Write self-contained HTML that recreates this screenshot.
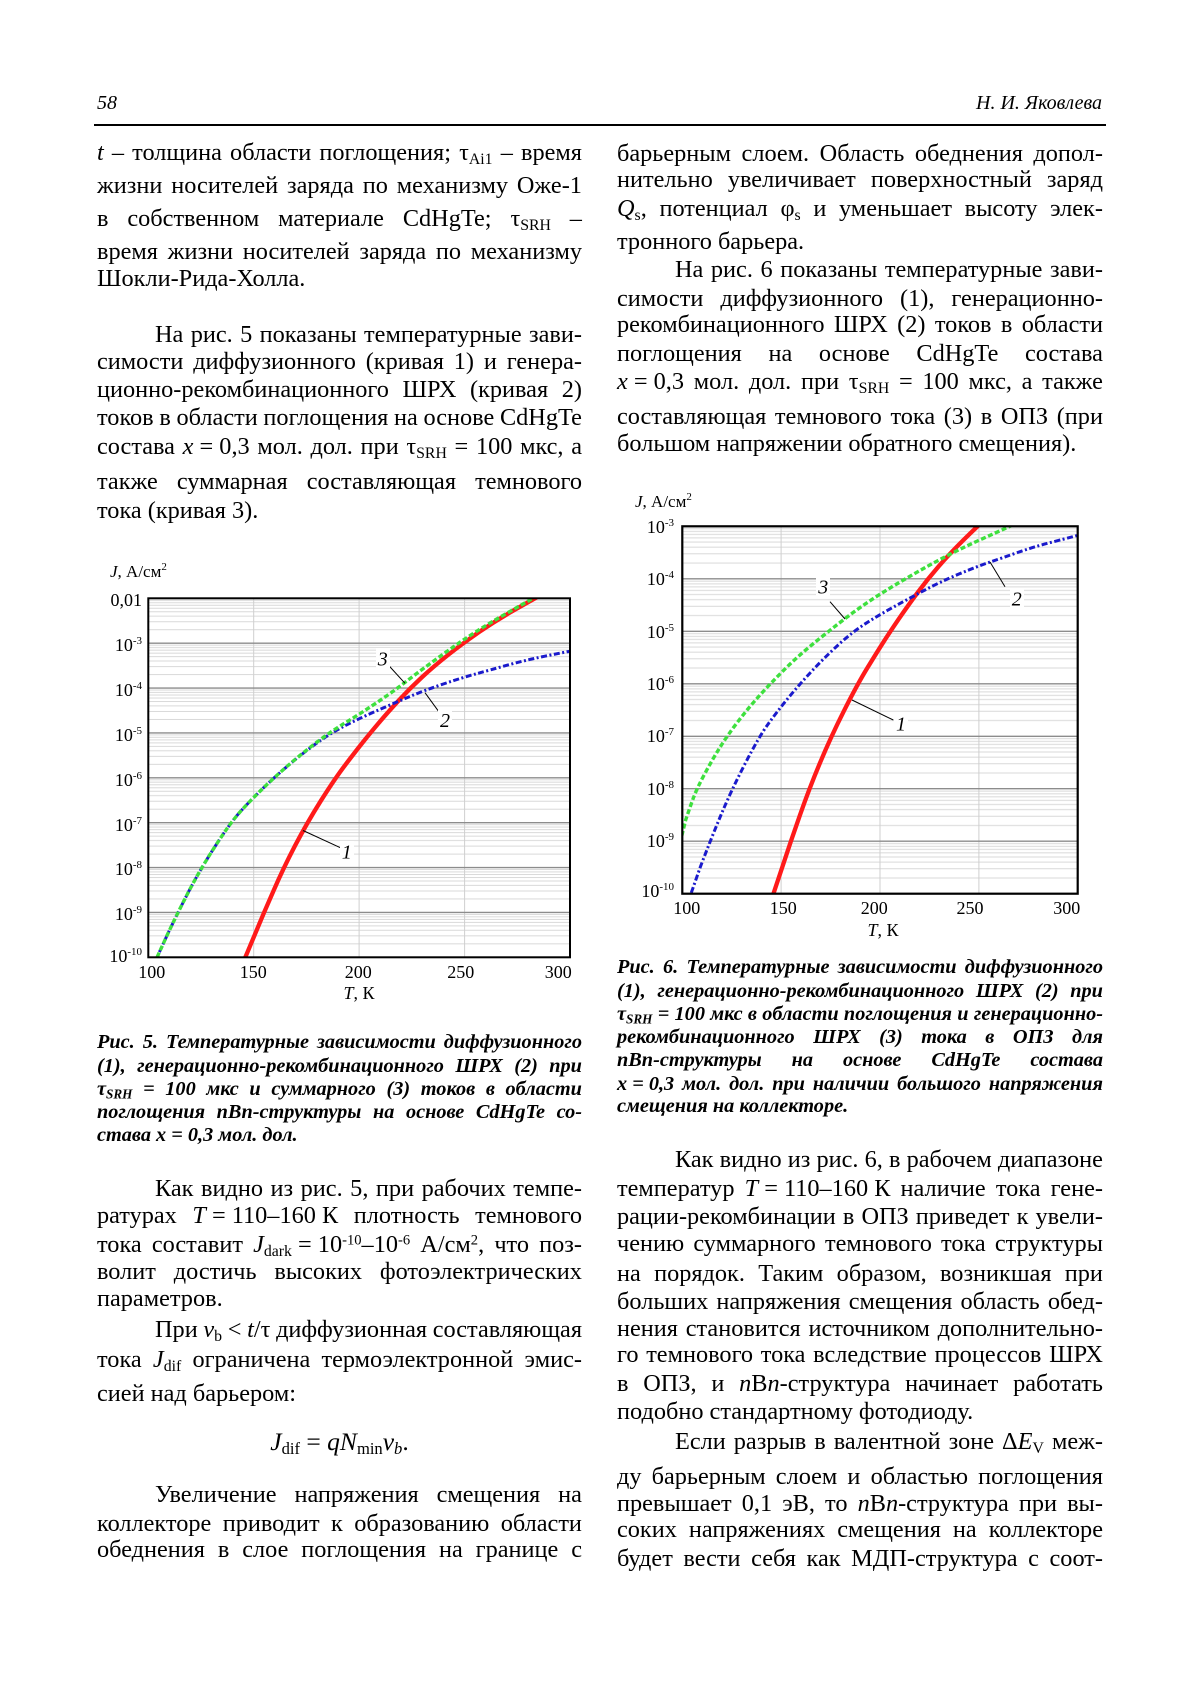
<!DOCTYPE html>
<html><head><meta charset="utf-8">
<style>
*{box-sizing:border-box}
body{margin:0;width:1200px;height:1698px;position:relative;overflow:hidden;background:#fff;font-family:"Liberation Serif","Noto Serif CJK SC",serif;color:#000}
.l{position:absolute;white-space:nowrap;font-size:24.3px;line-height:28px;height:28px}
.L{left:97px;width:485px}
.R{left:617px;width:486px}
.j{display:flex;justify-content:space-between;align-items:baseline}
.in{padding-left:58px}
.c{font-size:20.3px;line-height:23px;height:23px;font-weight:bold;font-style:italic}
sub{font-size:0.65em;vertical-align:-0.25em;line-height:0}
sup{font-size:0.6em;vertical-align:0.5em;line-height:0}
.hd{position:absolute;top:91px;font-size:20px;line-height:24px;font-style:italic}
svg{position:absolute;left:0;top:0}
</style></head><body>

<div class="hd" style="left:97px">58</div>
<div class="hd" style="right:98px">Н. И. Яковлева</div>
<div style="position:absolute;left:94px;top:124px;width:1012px;height:2px;background:#000"></div>

<!-- LEFT COLUMN -->
<div class="l L j" style="top:139px"><span><i>t</i></span><span>–</span><span>толщина</span><span>области</span><span>поглощения;</span><span>τ<sub>Ai1</sub></span><span>–</span><span>время</span></div>
<div class="l L j" style="top:172px"><span>жизни</span><span>носителей</span><span>заряда</span><span>по</span><span>механизму</span><span>Оже-1</span></div>
<div class="l L j" style="top:205px"><span>в</span><span>собственном</span><span>материале</span><span>CdHgTe;</span><span>τ<sub>SRH</sub></span><span>–</span></div>
<div class="l L j" style="top:238px"><span>время</span><span>жизни</span><span>носителей</span><span>заряда</span><span>по</span><span>механизму</span></div>
<div class="l L" style="top:265px">Шокли-Рида-Холла.</div>

<div class="l L j in" style="top:321px"><span>На</span><span>рис.</span><span>5</span><span>показаны</span><span>температурные</span><span>зави-</span></div>
<div class="l L j" style="top:348px"><span>симости</span><span>диффузионного</span><span>(кривая</span><span>1)</span><span>и</span><span>генера-</span></div>
<div class="l L j" style="top:376px"><span>ционно-рекомбинационного</span><span>ШРХ</span><span>(кривая</span><span>2)</span></div>
<div class="l L j" style="top:404px"><span>токов</span><span>в</span><span>области</span><span>поглощения</span><span>на</span><span>основе</span><span>CdHgTe</span></div>
<div class="l L j" style="top:433px"><span>состава</span><span><i>x</i> = 0,3</span><span>мол.</span><span>дол.</span><span>при</span><span>τ<sub>SRH</sub></span><span>=</span><span>100</span><span>мкс,</span><span>а</span></div>
<div class="l L j" style="top:468px"><span>также</span><span>суммарная</span><span>составляющая</span><span>темнового</span></div>
<div class="l L" style="top:497px">тока (кривая 3).</div>

<div class="l L j c" style="top:1031px"><span>Рис.</span><span>5.</span><span>Температурные</span><span>зависимости</span><span>диффузионного</span></div>
<div class="l L j c" style="top:1055px"><span>(1),</span><span>генерационно-рекомбинационного</span><span>ШРХ</span><span>(2)</span><span>при</span></div>
<div class="l L j c" style="top:1078px"><span>τ<sub>SRH</sub></span><span>=</span><span>100</span><span>мкс</span><span>и</span><span>суммарного</span><span>(3)</span><span>токов</span><span>в</span><span>области</span></div>
<div class="l L j c" style="top:1101px"><span>поглощения</span><span>nBn-структуры</span><span>на</span><span>основе</span><span>CdHgTe</span><span>со-</span></div>
<div class="l L c" style="top:1124px">става x = 0,3 мол. дол.</div>

<div class="l L j in" style="top:1175px"><span>Как</span><span>видно</span><span>из</span><span>рис.</span><span>5,</span><span>при</span><span>рабочих</span><span>темпе-</span></div>
<div class="l L j" style="top:1202px"><span>ратурах</span><span><i>T</i> = 110–160 К</span><span>плотность</span><span>темнового</span></div>
<div class="l L j" style="top:1231px"><span>тока</span><span>составит</span><span><i>J</i><sub>dark</sub> = 10<sup>-10</sup>–10<sup>-6</sup></span><span>А/см<sup>2</sup>,</span><span>что</span><span>поз-</span></div>
<div class="l L j" style="top:1258px"><span>волит</span><span>достичь</span><span>высоких</span><span>фотоэлектрических</span></div>
<div class="l L" style="top:1285px">параметров.</div>
<div class="l L j in" style="top:1316px"><span>При</span><span><i>v</i><sub>b</sub></span><span>&lt;</span><span><i>t</i>/τ</span><span>диффузионная</span><span>составляющая</span></div>
<div class="l L j" style="top:1346px"><span>тока</span><span><i>J</i><sub>dif</sub></span><span>ограничена</span><span>термоэлектронной</span><span>эмис-</span></div>
<div class="l L" style="top:1380px">сией над барьером:</div>
<div class="l L" style="top:1428px;text-align:center;font-size:25.5px"><i>J</i><sub>dif</sub> = <i>qN</i><sub>min</sub><i>v<sub>b</sub></i>.</div>
<div class="l L j in" style="top:1481px"><span>Увеличение</span><span>напряжения</span><span>смещения</span><span>на</span></div>
<div class="l L j" style="top:1510px"><span>коллекторе</span><span>приводит</span><span>к</span><span>образованию</span><span>области</span></div>
<div class="l L j" style="top:1536px"><span>обеднения</span><span>в</span><span>слое</span><span>поглощения</span><span>на</span><span>границе</span><span>с</span></div>

<!-- RIGHT COLUMN -->
<div class="l R j" style="top:140px"><span>барьерным</span><span>слоем.</span><span>Область</span><span>обеднения</span><span>допол-</span></div>
<div class="l R j" style="top:166px"><span>нительно</span><span>увеличивает</span><span>поверхностный</span><span>заряд</span></div>
<div class="l R j" style="top:195px"><span><i>Q</i><sub>s</sub>,</span><span>потенциал</span><span>φ<sub>s</sub></span><span>и</span><span>уменьшает</span><span>высоту</span><span>элек-</span></div>
<div class="l R" style="top:228px">тронного барьера.</div>
<div class="l R j in" style="top:256px"><span>На</span><span>рис.</span><span>6</span><span>показаны</span><span>температурные</span><span>зави-</span></div>
<div class="l R j" style="top:285px"><span>симости</span><span>диффузионного</span><span>(1),</span><span>генерационно-</span></div>
<div class="l R j" style="top:311px"><span>рекомбинационного</span><span>ШРХ</span><span>(2)</span><span>токов</span><span>в</span><span>области</span></div>
<div class="l R j" style="top:340px"><span>поглощения</span><span>на</span><span>основе</span><span>CdHgTe</span><span>состава</span></div>
<div class="l R j" style="top:368px"><span><i>x</i> = 0,3</span><span>мол.</span><span>дол.</span><span>при</span><span>τ<sub>SRH</sub></span><span>=</span><span>100</span><span>мкс,</span><span>а</span><span>также</span></div>
<div class="l R j" style="top:403px"><span>составляющая</span><span>темнового</span><span>тока</span><span>(3)</span><span>в</span><span>ОПЗ</span><span>(при</span></div>
<div class="l R" style="top:430px">большом напряжении обратного смещения).</div>

<div class="l R j c" style="top:956px"><span>Рис.</span><span>6.</span><span>Температурные</span><span>зависимости</span><span>диффузионного</span></div>
<div class="l R j c" style="top:980px"><span>(1),</span><span>генерационно-рекомбинационного</span><span>ШРХ</span><span>(2)</span><span>при</span></div>
<div class="l R j c" style="top:1003px"><span>τ<sub>SRH</sub></span><span>=</span><span>100</span><span>мкс</span><span>в</span><span>области</span><span>поглощения</span><span>и</span><span>генерационно-</span></div>
<div class="l R j c" style="top:1026px"><span>рекомбинационного</span><span>ШРХ</span><span>(3)</span><span>тока</span><span>в</span><span>ОПЗ</span><span>для</span></div>
<div class="l R j c" style="top:1049px"><span>nBn-структуры</span><span>на</span><span>основе</span><span>CdHgTe</span><span>состава</span></div>
<div class="l R j c" style="top:1073px"><span>x = 0,3</span><span>мол.</span><span>дол.</span><span>при</span><span>наличии</span><span>большого</span><span>напряжения</span></div>
<div class="l R c" style="top:1095px">смещения на коллекторе.</div>

<div class="l R j in" style="top:1146px"><span>Как</span><span>видно</span><span>из</span><span>рис.</span><span>6,</span><span>в</span><span>рабочем</span><span>диапазоне</span></div>
<div class="l R j" style="top:1175px"><span>температур</span><span><i>T</i> = 110–160 К</span><span>наличие</span><span>тока</span><span>гене-</span></div>
<div class="l R j" style="top:1203px"><span>рации-рекомбинации</span><span>в</span><span>ОПЗ</span><span>приведет</span><span>к</span><span>увели-</span></div>
<div class="l R j" style="top:1230px"><span>чению</span><span>суммарного</span><span>темнового</span><span>тока</span><span>структуры</span></div>
<div class="l R j" style="top:1260px"><span>на</span><span>порядок.</span><span>Таким</span><span>образом,</span><span>возникшая</span><span>при</span></div>
<div class="l R j" style="top:1288px"><span>больших</span><span>напряжения</span><span>смещения</span><span>область</span><span>обед-</span></div>
<div class="l R j" style="top:1315px"><span>нения</span><span>становится</span><span>источником</span><span>дополнительно-</span></div>
<div class="l R j" style="top:1341px"><span>го</span><span>темнового</span><span>тока</span><span>вследствие</span><span>процессов</span><span>ШРХ</span></div>
<div class="l R j" style="top:1370px"><span>в</span><span>ОПЗ,</span><span>и</span><span><i>n</i>B<i>n</i>-структура</span><span>начинает</span><span>работать</span></div>
<div class="l R" style="top:1398px">подобно стандартному фотодиоду.</div>
<div class="l R j in" style="top:1428px"><span>Если</span><span>разрыв</span><span>в</span><span>валентной</span><span>зоне</span><span>Δ<i>E</i><sub>V</sub></span><span>меж-</span></div>
<div class="l R j" style="top:1463px"><span>ду</span><span>барьерным</span><span>слоем</span><span>и</span><span>областью</span><span>поглощения</span></div>
<div class="l R j" style="top:1490px"><span>превышает</span><span>0,1</span><span>эВ,</span><span>то</span><span><i>n</i>B<i>n</i>-структура</span><span>при</span><span>вы-</span></div>
<div class="l R j" style="top:1516px"><span>соких</span><span>напряжениях</span><span>смещения</span><span>на</span><span>коллекторе</span></div>
<div class="l R j" style="top:1545px"><span>будет</span><span>вести</span><span>себя</span><span>как</span><span>МДП-структура</span><span>с</span><span>соот-</span></div>

<!-- CHARTS -->
<svg width="1200" height="1698" viewBox="0 0 1200 1698" font-family="Liberation Serif, serif">
<defs>
<pattern id="p1" x="148.3" y="598.3" width="421.7" height="44.875" patternUnits="userSpaceOnUse">
<g stroke="#d9d9d9" stroke-width="1">
<line x1="0" x2="421.7" y1="2.05" y2="2.05"/><line x1="0" x2="421.7" y1="4.35" y2="4.35"/>
<line x1="0" x2="421.7" y1="6.95" y2="6.95"/><line x1="0" x2="421.7" y1="9.95" y2="9.95"/>
<line x1="0" x2="421.7" y1="13.51" y2="13.51"/><line x1="0" x2="421.7" y1="17.86" y2="17.86"/>
<line x1="0" x2="421.7" y1="23.46" y2="23.46"/><line x1="0" x2="421.7" y1="31.37" y2="31.37"/>
</g></pattern>
<pattern id="p2" x="682.3" y="526.3" width="395.4" height="52.49" patternUnits="userSpaceOnUse">
<g stroke="#d9d9d9" stroke-width="1">
<line x1="0" x2="395.4" y1="2.40" y2="2.40"/><line x1="0" x2="395.4" y1="5.09" y2="5.09"/>
<line x1="0" x2="395.4" y1="8.13" y2="8.13"/><line x1="0" x2="395.4" y1="11.65" y2="11.65"/>
<line x1="0" x2="395.4" y1="15.80" y2="15.80"/><line x1="0" x2="395.4" y1="20.89" y2="20.89"/>
<line x1="0" x2="395.4" y1="27.45" y2="27.45"/><line x1="0" x2="395.4" y1="36.69" y2="36.69"/>
</g></pattern>
<clipPath id="c1"><rect x="148.3" y="598.3" width="421.7" height="359"/></clipPath>
<clipPath id="c2"><rect x="682.3" y="526.3" width="395.4" height="367.4"/></clipPath>
</defs>

<!-- Chart 1 -->
<rect x="148.3" y="598.3" width="421.7" height="359" fill="url(#p1)"/>
<g stroke="#cfcfcf" stroke-width="1">
<line x1="253.7" x2="253.7" y1="598.3" y2="957.3"/><line x1="359.1" x2="359.1" y1="598.3" y2="957.3"/><line x1="464.6" x2="464.6" y1="598.3" y2="957.3"/>
</g>
<g stroke="#8c8c8c" stroke-width="1.4">
<line x1="148.3" x2="570" y1="643.2" y2="643.2"/><line x1="148.3" x2="570" y1="688.1" y2="688.1"/>
<line x1="148.3" x2="570" y1="732.9" y2="732.9"/><line x1="148.3" x2="570" y1="777.8" y2="777.8"/>
<line x1="148.3" x2="570" y1="822.7" y2="822.7"/><line x1="148.3" x2="570" y1="867.6" y2="867.6"/>
<line x1="148.3" x2="570" y1="912.4" y2="912.4"/>
</g>
<g clip-path="url(#c1)" fill="none" stroke-linejoin="round">
<path stroke="#ff1a1a" stroke-width="4.3" d="M240,970 L264,912.7 L273.65,890.5 Q283.3,868.3 295.0,845.8 Q306.7,823.3 320.85,800.8 Q335,778.3 345.85,764.15 Q356.7,750 363.35,741.65 Q370,733.3 379.15,722.5 Q388.3,711.7 399.15,700 Q410,688.3 421.65,677.5 Q433.3,666.7 448,655 Q462.7,643.3 479.7,631.65 Q496.7,620 515.85,609.15 Q535,598.3 548,591"/>
<path stroke="#1a1acc" stroke-width="3" stroke-dasharray="6 2.5 2 2.5" d="M154,964 L167.45,934.5 Q178.2,911.7 189.05,890.85 Q199.9,870 214.9,846.65 Q229.9,823.3 239.7,812.35 Q249.5,801.4 261.4,789.85 Q273.3,778.3 286.7,766.8 Q300.1,755.3 315.1,744.3 Q330.1,733.3 344.65,725.9 Q359.2,718.5 374.55,711.75 Q389.9,705 406.6,697.85 Q423.3,690.7 443.3,684 Q463.3,677.3 476.7,673.65 Q490.1,670 506.65,665.35 Q523.2,660.7 544.9,656.2 Q566.6,651.7 572,651"/>
<path stroke="#3ee03e" stroke-width="3.4" stroke-dasharray="5 2.5" d="M154,964 L167.45,934.5 Q178.2,911.7 189.05,890.85 Q199.9,870 214.9,846.65 Q229.9,823.3 239.7,812.35 Q249.5,801.4 261.4,789.85 Q273.3,778.3 286.7,766.65 Q300.1,755 315.1,743.5 Q330.1,732 344.65,723.2 Q359.2,714.4 374.55,704.1 Q389.9,693.8 397.7,687.9 Q405.5,682 414.4,675.25 Q423.3,668.5 433.4,661.2 Q443.5,653.9 453.4,646.85 Q463.3,639.8 476.7,631.25 Q490.1,622.7 506.65,613.3 Q523.2,603.9 528.15,601.1 Q533.1,598.3 540,594"/>
</g>
<rect x="148.3" y="598.3" width="421.7" height="359" fill="none" stroke="#000" stroke-width="2"/>
<g stroke="#000" stroke-width="1">
<line x1="388.3" y1="665" x2="405" y2="683.3"/>
<line x1="440" y1="713.3" x2="425" y2="692.7"/>
<line x1="341.7" y1="848.3" x2="303" y2="830.5"/>
</g>
<g fill="#fff"><rect x="376" y="648" width="14" height="21"/><rect x="438" y="710" width="14" height="21"/><rect x="340" y="841" width="14" height="21"/></g>
<g font-size="20" font-style="italic" text-anchor="middle" fill="#000">
<text x="382.7" y="665.3">3</text><text x="445" y="727">2</text><text x="346.7" y="858.7">1</text>
</g>
<g font-size="18" text-anchor="end" fill="#000">
<text x="142" y="606">0,01</text>
<text x="142" y="651">10<tspan dy="-7" font-size="11">-3</tspan></text>
<text x="142" y="696">10<tspan dy="-7" font-size="11">-4</tspan></text>
<text x="142" y="741">10<tspan dy="-7" font-size="11">-5</tspan></text>
<text x="142" y="786">10<tspan dy="-7" font-size="11">-6</tspan></text>
<text x="142" y="831">10<tspan dy="-7" font-size="11">-7</tspan></text>
<text x="142" y="875">10<tspan dy="-7" font-size="11">-8</tspan></text>
<text x="142" y="920">10<tspan dy="-7" font-size="11">-9</tspan></text>
<text x="142" y="962">10<tspan dy="-7" font-size="11">-10</tspan></text>
</g>
<g font-size="18" text-anchor="middle" fill="#000">
<text x="151.7" y="978">100</text><text x="253.3" y="978">150</text><text x="358.3" y="978">200</text><text x="460.8" y="978">250</text><text x="558.3" y="978">300</text>
<text x="359" y="999"><tspan font-style="italic">T</tspan>, К</text>
</g>
<text x="110" y="577" font-size="17" fill="#000"><tspan font-style="italic">J</tspan>, А/см<tspan dy="-7" font-size="11">2</tspan></text>

<!-- Chart 2 -->
<rect x="682.3" y="526.3" width="395.4" height="367.4" fill="url(#p2)"/>
<g stroke="#cfcfcf" stroke-width="1">
<line x1="781.1" x2="781.1" y1="526.3" y2="893.7"/><line x1="880" x2="880" y1="526.3" y2="893.7"/><line x1="978.9" x2="978.9" y1="526.3" y2="893.7"/>
</g>
<g stroke="#8c8c8c" stroke-width="1.4">
<line x1="682.3" x2="1077.7" y1="578.8" y2="578.8"/><line x1="682.3" x2="1077.7" y1="631.3" y2="631.3"/>
<line x1="682.3" x2="1077.7" y1="683.8" y2="683.8"/><line x1="682.3" x2="1077.7" y1="736.3" y2="736.3"/>
<line x1="682.3" x2="1077.7" y1="788.7" y2="788.7"/><line x1="682.3" x2="1077.7" y1="841.2" y2="841.2"/>
</g>
<g clip-path="url(#c2)" fill="none" stroke-linejoin="round">
<path stroke="#ff1a1a" stroke-width="4.3" d="M768,910 L790.8,841.6 L799.8,815.6 Q808.8,789.6 819.8,763.3 Q830.8,737 844.05,710.7 Q857.3,684.4 867.45,667.8 Q877.6,651.2 883.85,641.45 Q890.1,631.7 898.7,619.1 Q907.3,606.5 917.45,592.8 Q927.6,579.1 938.6,566.45 Q949.6,553.8 963.35,540.15 Q977.1,526.5 988.7,516"/>
<path stroke="#1a1acc" stroke-width="3" stroke-dasharray="6 2.5 2 2.5" d="M687,905 L700.3,867.05 Q710.4,840.4 720.55,816 Q730.7,791.6 744.75,764.3 Q758.8,737 768,724.2 Q777.2,711.4 788.35,697.85 Q799.5,684.3 812.05,670.85 Q824.6,657.4 838.65,644.55 Q852.7,631.7 866.35,623.05 Q880,614.4 894.45,606.5 Q908.9,598.6 924.5,590.25 Q940.1,581.9 958.9,574.05 Q977.7,566.2 990.25,561.95 Q1002.8,557.7 1018.3,552.25 Q1033.8,546.8 1054.15,541.55 Q1074.5,536.3 1080,534.8"/>
<path stroke="#3ee03e" stroke-width="3.4" stroke-dasharray="5 2.5" d="M680,843 L685.75,819.75 Q689.2,809.5 692.95,799.1 Q696.7,788.75 704.3,774.6 Q711.9,760.4 719.35,748.35 Q726.8,736.3 737.15,722.65 Q747.5,709 758.8,696.4 Q770.1,683.8 783.55,670.4 Q797,657 812.7,644.15 Q828.4,631.3 846.3,617.65 Q864.2,604 884.55,591.4 Q904.9,578.8 930,564.9 Q955.1,551 982.6,538.65 Q1010.1,526.3 1030,517"/>
</g>
<rect x="682.3" y="526.3" width="395.4" height="367.4" fill="none" stroke="#000" stroke-width="2.2"/>
<g stroke="#000" stroke-width="1">
<line x1="830" y1="601.7" x2="845" y2="619"/>
<line x1="1005" y1="586.7" x2="990" y2="562"/>
<line x1="893.3" y1="720" x2="852" y2="700"/>
</g>
<g fill="#fff"><rect x="816" y="576" width="14" height="21"/><rect x="1010" y="588" width="14" height="21"/><rect x="894" y="713" width="14" height="21"/></g>
<g font-size="20" font-style="italic" text-anchor="middle" fill="#000">
<text x="823.3" y="593.7">3</text><text x="1016.7" y="605.3">2</text><text x="901" y="730.3">1</text>
</g>
<g font-size="18" text-anchor="end" fill="#000">
<text x="674" y="533">10<tspan dy="-7" font-size="11">-3</tspan></text>
<text x="674" y="585">10<tspan dy="-7" font-size="11">-4</tspan></text>
<text x="674" y="638">10<tspan dy="-7" font-size="11">-5</tspan></text>
<text x="674" y="690">10<tspan dy="-7" font-size="11">-6</tspan></text>
<text x="674" y="742">10<tspan dy="-7" font-size="11">-7</tspan></text>
<text x="674" y="795">10<tspan dy="-7" font-size="11">-8</tspan></text>
<text x="674" y="847">10<tspan dy="-7" font-size="11">-9</tspan></text>
<text x="674" y="897">10<tspan dy="-7" font-size="11">-10</tspan></text>
</g>
<g font-size="18" text-anchor="middle" fill="#000">
<text x="686.7" y="914">100</text><text x="783.3" y="914">150</text><text x="874.2" y="914">200</text><text x="970" y="914">250</text><text x="1066.7" y="914">300</text>
<text x="883" y="936"><tspan font-style="italic">T</tspan>, К</text>
</g>
<text x="635" y="507" font-size="17" fill="#000"><tspan font-style="italic">J</tspan>, А/см<tspan dy="-7" font-size="11">2</tspan></text>
</svg>
</body></html>
